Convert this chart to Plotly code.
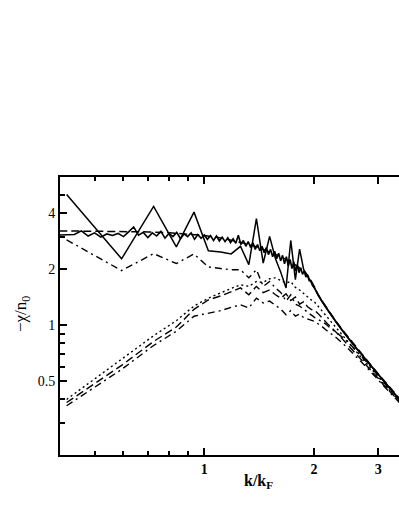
import plotly.graph_objects as go

# shell wave vectors (sparse curves) and the common large-k tail
k_shell = [0.419, 0.593, 0.726, 0.838, 0.937, 1.026, 1.109, 1.185, 1.257, 1.325, 1.390,
           1.451, 1.511, 1.568, 1.623, 1.676, 1.727, 1.778, 1.826, 1.874, 1.920, 1.965]
k_tail = [2.01, 2.05, 2.10, 2.15, 2.20, 2.30, 2.40, 2.50, 2.60, 2.70, 2.80, 2.90,
          3.00, 3.10, 3.20, 3.30, 3.45]

# dense noisy curve
k_dense = [0.40, 0.42, 0.44, 0.46, 0.48, 0.50, 0.52, 0.54, 0.56, 0.58, 0.60, 0.62, 0.64,
           0.66, 0.68, 0.70, 0.72, 0.74, 0.76, 0.78, 0.80, 0.82, 0.84, 0.86, 0.88, 0.90,
           0.92, 0.94, 0.96, 0.98, 1.00, 1.02, 1.04, 1.06, 1.08, 1.10, 1.12, 1.14, 1.16,
           1.18, 1.20, 1.22, 1.24, 1.26, 1.28, 1.30, 1.32, 1.34, 1.36, 1.38, 1.40, 1.42,
           1.44, 1.46, 1.48, 1.50, 1.52, 1.54, 1.56, 1.58, 1.60, 1.62, 1.64, 1.66, 1.68,
           1.70, 1.72, 1.74, 1.76, 1.78, 1.80, 1.82, 1.84, 1.86, 1.88, 1.90, 1.92, 1.94,
           1.96, 1.98]
chi_dense = [3.06, 3.06, 3.08, 3.22, 3.02, 3.14, 2.98, 3.10, 3.04, 3.12, 3.00, 3.18, 3.38,
             3.05, 3.16, 2.96, 3.14, 3.02, 3.20, 2.94, 3.12, 3.00, 3.16, 2.92, 3.10, 3.00,
             3.14, 2.90, 3.08, 2.94, 3.06, 2.90, 3.04, 2.86, 3.02, 2.84, 2.98, 2.82, 2.96,
             2.78, 2.92, 2.76, 3.05, 2.72, 2.86, 2.66, 2.82, 2.62, 2.78, 2.56, 2.72, 2.52,
             2.66, 2.46, 2.62, 2.40, 2.56, 2.34, 2.50, 2.28, 2.44, 2.22, 2.38, 2.14, 2.34,
             2.08, 2.26, 2.02, 2.20, 1.96, 2.12, 1.92, 2.04, 1.88, 1.96, 1.82, 1.86, 1.74,
             1.74, 1.64]
chi_dense_tail = [1.58, 1.46, 1.35, 1.26, 1.18, 1.04, 0.93, 0.84, 0.76, 0.70, 0.64, 0.59,
                  0.545, 0.505, 0.47, 0.44, 0.395]

# smooth dashed reference
k_smooth = [0.40, 0.50, 0.60, 0.70, 0.80, 0.90, 1.00, 1.10, 1.20, 1.30, 1.40, 1.50, 1.60,
            1.70, 1.80, 1.90, 1.95]
chi_smooth = [3.22, 3.21, 3.20, 3.18, 3.15, 3.10, 3.04, 2.96, 2.86, 2.75, 2.63, 2.50, 2.37,
              2.23, 2.08, 1.90, 1.78]
chi_smooth_tail = [1.60, 1.47, 1.36, 1.27, 1.19, 1.05, 0.94, 0.85, 0.77, 0.70, 0.645, 0.595,
                   0.55, 0.51, 0.475, 0.44, 0.40]

# sparse curves on the shell grid
chi_zigzag = [5.05, 2.28, 4.36, 2.64, 4.06, 2.52, 2.48, 2.42, 2.66, 2.12, 3.75, 2.16, 3.01,
              2.28, 1.92, 1.59, 2.86, 1.76, 2.57, 1.99, 1.85, 1.70]
chi_upper_dd = [2.88, 1.97, 2.43, 2.15, 2.42, 2.06, 2.02, 1.99, 1.99, 1.80, 1.99, 1.62, 1.72,
                1.59, 1.50, 1.35, 1.46, 1.30, 1.27, 1.22, 1.18, 1.14]
chi_upper_dd_tail = [1.10, 1.08, 1.05, 1.02, 0.98, 0.92, 0.86, 0.80, 0.74, 0.68, 0.63, 0.58,
                     0.535, 0.495, 0.46, 0.43, 0.39]
chi_dot = [0.40, 0.66, 0.88, 1.06, 1.27, 1.40, 1.50, 1.58, 1.65, 1.62, 1.72, 1.70, 1.78,
           1.80, 1.74, 1.69, 1.72, 1.60, 1.55, 1.48, 1.42, 1.37]
chi_dot_tail = [1.33, 1.27, 1.20, 1.13, 1.07, 0.97, 0.88, 0.80, 0.73, 0.67, 0.62, 0.575,
                0.53, 0.49, 0.455, 0.425, 0.39]
chi_dash = [0.385, 0.61, 0.82, 0.98, 1.22, 1.37, 1.44, 1.52, 1.59, 1.46, 1.62, 1.50, 1.55,
            1.46, 1.40, 1.48, 1.36, 1.42, 1.30, 1.34, 1.26, 1.22]
chi_dash_tail = [1.20, 1.16, 1.10, 1.05, 1.00, 0.92, 0.84, 0.77, 0.71, 0.65, 0.60, 0.56,
                 0.52, 0.48, 0.45, 0.42, 0.385]
chi_lower_dd = [0.37, 0.58, 0.78, 0.93, 1.12, 1.16, 1.20, 1.25, 1.29, 1.24, 1.40, 1.32, 1.35,
                1.28, 1.22, 1.14, 1.20, 1.12, 1.15, 1.10, 1.08, 1.06]
chi_lower_dd_tail = [1.05, 1.02, 0.99, 0.95, 0.92, 0.86, 0.80, 0.74, 0.69, 0.635, 0.59, 0.55,
                     0.51, 0.475, 0.445, 0.415, 0.38]

x_major = [1, 2, 3]
x_minor = [0.5, 0.6, 0.7, 0.8, 0.9]
y_major = [0.5, 1, 2, 4]
y_minor = [0.3, 0.4, 0.6, 0.7, 0.8, 0.9, 3, 5]

DASHDOT = "7px,4px,2px,4px"

fig = go.Figure()


def add_line(x, y, dash, width=1.4):
    fig.add_trace(go.Scatter(x=x, y=y, mode="lines", showlegend=False, hoverinfo="skip",
                             line=dict(color="black", width=width, dash=dash)))


add_line(k_dense + k_tail, chi_dense + chi_dense_tail, "solid", 1.6)
add_line(k_smooth + k_tail, chi_smooth + chi_smooth_tail, "8px,4px", 1.5)
add_line(k_shell + k_tail, chi_zigzag + chi_dense_tail, "solid", 1.5)
add_line(k_shell + k_tail, chi_upper_dd + chi_upper_dd_tail, DASHDOT)
add_line(k_shell + k_tail, chi_dot + chi_dot_tail, "2px,3px")
add_line(k_shell + k_tail, chi_dash + chi_dash_tail, "8px,4px")
add_line(k_shell + k_tail, chi_lower_dd + chi_lower_dd_tail, DASHDOT)

tickfont = dict(family="Liberation Serif", size=14, color="black")

fig.update_xaxes(
    type="log", range=[-0.39599, 0.53431],
    tickvals=x_major, ticktext=[str(v) for v in x_major],
    tickfont=dict(family="Liberation Serif", size=14, color="black", weight="bold"),
    ticks="inside", ticklen=7, tickwidth=1.5, tickcolor="black",
    minor=dict(tickvals=x_minor, ticks="inside", ticklen=4, tickwidth=1.5, tickcolor="black"),
    showline=True, linecolor="black", linewidth=1.8, mirror="ticks",
    showgrid=False, zeroline=False,
)
fig.update_yaxes(
    type="log", range=[-0.6965, 0.7973],
    tickvals=y_major, ticktext=["0.5", "1", "2", "4"],
    tickfont=tickfont,
    ticks="inside", ticklen=7, tickwidth=1.5, tickcolor="black",
    minor=dict(tickvals=y_minor, ticks="inside", ticklen=5, tickwidth=1.5, tickcolor="black"),
    showline=True, linecolor="black", linewidth=1.8, mirror=False,
    showgrid=False, zeroline=False,
)

fig.update_layout(
    width=399, height=516,
    margin=dict(l=60, r=0, t=177, b=61),
    plot_bgcolor="white", paper_bgcolor="white",
    annotations=[
        dict(text="<b>k/k<sub>F</sub></b>", xref="paper", yref="paper",
             x=0.587, y=-0.097, showarrow=False, xanchor="center", yanchor="middle",
             font=dict(family="Liberation Serif", size=16, color="black")),
        dict(text="\u2212\u03c7/n<sub>0</sub>", xref="paper", yref="paper",
             x=-0.112, y=0.507, showarrow=False, textangle=-90,
             xanchor="center", yanchor="middle",
             font=dict(family="Liberation Serif", size=17, color="black")),
    ],
)

# page margin off so the 399x516 figure fills the window exactly
fig.write_html("out.html", config={"displayModeBar": False},
               post_script="document.body.style.margin='0';"
                           "document.body.style.overflow='hidden';")
